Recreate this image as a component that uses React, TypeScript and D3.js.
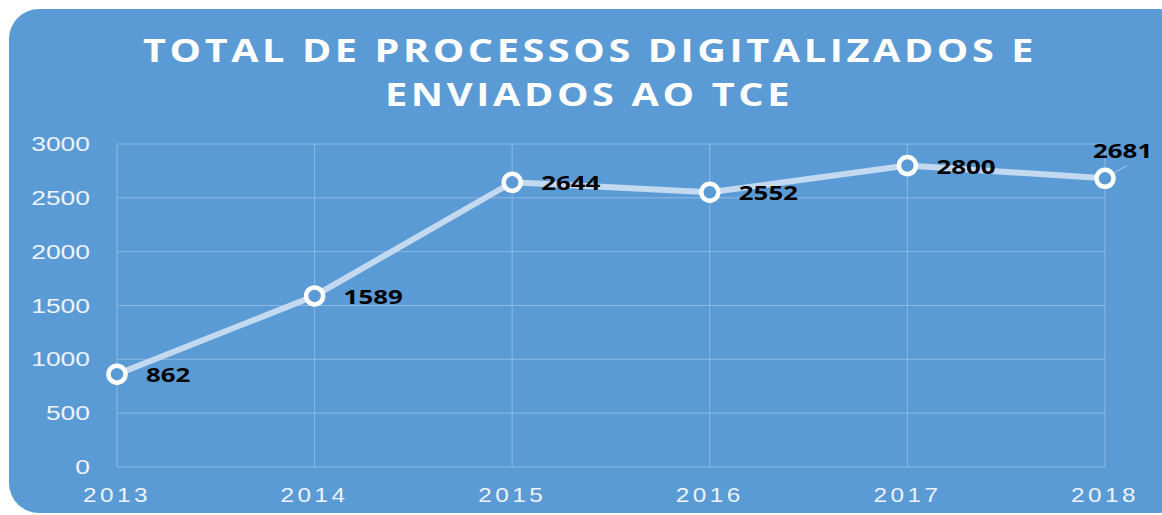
import * as d3 from "d3";

const years = ["2013", "2014", "2015", "2016", "2017", "2018"];
const values = [862, 1589, 2644, 2552, 2800, 2681];
const yTicks = [0, 500, 1000, 1500, 2000, 2500, 3000];
const titleLines = ["TOTAL DE PROCESSOS DIGITALIZADOS E", "ENVIADOS AO TCE"];

const W = 1162;
const H = 515;
const bg = "#5B9BD5";
const grid = "#8DB8E3";

export default function App() {
  const x = d3.scalePoint<string>().domain(years).range([117, 1105]);
  const y = d3.scaleLinear().domain([0, 3000]).range([467, 144]);

  const pts = years.map((yr, i) => ({ yr, v: values[i], px: x(yr)!, py: y(values[i]) }));
  const line = d3
    .line<{ px: number; py: number }>()
    .x(d => d.px)
    .y(d => d.py);

  const last = pts[pts.length - 1];

  return (
    <svg
      width={W}
      height={H}
      style={{ position: "absolute", left: 0, top: 0, display: "block" }}
    >
      <rect x={0} y={0} width={W} height={H} fill="#fff" />
      <rect x={9} y={9} width={1180} height={504} rx={30} fill={bg} />

      {/* title */}
      <g fill="#fff" fontFamily="'Open Sans', 'DejaVu Sans', sans-serif" fontWeight="bold" fontSize={33}>
        <text x={143} y={62} textLength={894} lengthAdjust="spacingAndGlyphs" letterSpacing={3}>
          {titleLines[0]}
        </text>
        <text x={385} y={106} textLength={408} lengthAdjust="spacingAndGlyphs" letterSpacing={3}>
          {titleLines[1]}
        </text>
      </g>

      {/* grid */}
      <g stroke={grid} strokeWidth={1}>
        {yTicks.map(t => (
          <line key={t} x1={117} x2={1105} y1={y(t)} y2={y(t)} />
        ))}
        {years.map(yr => (
          <line key={yr} x1={x(yr)} x2={x(yr)} y1={y(3000)} y2={y(0)} />
        ))}
      </g>

      {/* y axis labels */}
      <g fill="#EEF3FA" fontFamily="'Liberation Sans', Arial, sans-serif" fontSize={20}>
        {yTicks.map(t => {
          const s = String(t);
          const w = s.length * 14.7;
          return (
            <text key={t} x={90 - w} y={y(t) + 7} textLength={w} lengthAdjust="spacingAndGlyphs">
              {s}
            </text>
          );
        })}
      </g>

      {/* x axis labels */}
      <g fill="#EEF3FA" fontFamily="'Liberation Sans', Arial, sans-serif" fontSize={21}>
        {years.map(yr => (
          <text
            key={yr}
            x={x(yr)! - 34}
            y={502}
            textLength={68}
            lengthAdjust="spacingAndGlyphs"
            letterSpacing={3}
          >
            {yr}
          </text>
        ))}
      </g>

      {/* series */}
      <path d={line(pts)!} fill="none" stroke="#C3D9F0" strokeWidth={6} strokeLinejoin="round" />
      <line x1={last.px} y1={last.py} x2={last.px + 22} y2={last.py - 13} stroke="#A9C8EA" strokeWidth={1} />
      {pts.map(p => (
        <circle key={p.yr} cx={p.px} cy={p.py} r={8.5} fill={bg} stroke="#fff" strokeWidth={4.5} />
      ))}

      {/* data labels */}
      <g fill="#000" fontFamily="'Open Sans', 'DejaVu Sans', sans-serif" fontWeight="bold" fontSize={20}>
        {pts.map((p, i) => {
          const s = String(p.v);
          const w = s.length * 14.8;
          const isLast = i === pts.length - 1;
          const lx = isLast ? 1093 : p.px + 29;
          const ly = isLast ? 158 : p.py + 8;
          return (
            <text key={p.yr} x={lx} y={ly} textLength={w} lengthAdjust="spacingAndGlyphs">
              {s}
            </text>
          );
        })}
      </g>
    </svg>
  );
}
